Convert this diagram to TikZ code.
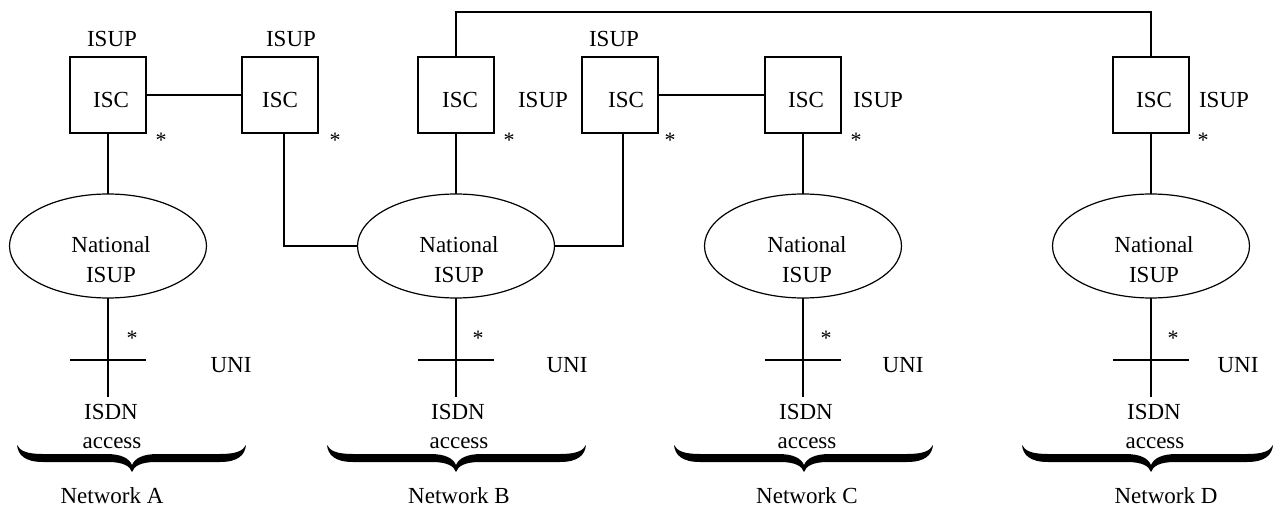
\documentclass[tikz,border=0pt]{standalone}
\usepackage{fontspec}
\setmainfont{Liberation Serif}
\usetikzlibrary{shapes.geometric}
\begin{document}
\begin{tikzpicture}[x=1pt,y=-1pt,
  every node/.style={inner sep=0pt,outer sep=0pt},
  txt/.style={font=\fontsize{23}{30}\selectfont,anchor=base},
  star/.style={font=\fontsize{22}{24}\selectfont,anchor=base},
  isc/.style={draw,line width=1.4pt,minimum width=76pt,minimum height=76pt},
  net/.style={draw,ellipse,line width=1.2pt,minimum width=197pt,minimum height=104pt},
  wire/.style={line width=1.4pt},
  pics/netbrace/.style 2 args={code={
    \fill (-#1,0)
      .. controls (-#1+1,10) and (-#1+8,17) .. (-#1+26,17)
      -- (-24,17)
      .. controls (-9,17) and (-2,21) .. (0,27)
      .. controls (2,21) and (9,17) .. (24,17)
      -- (#2-26,17)
      .. controls (#2-8,17) and (#2-1,10) .. (#2,0)
      .. controls (#2-3,6) and (#2-10,9) .. (#2-26,9)
      -- (26,9)
      .. controls (11,9) and (3,13) .. (0,20)
      .. controls (-3,13) and (-11,9) .. (-26,9)
      -- (-#1+26,9)
      .. controls (-#1+10,9) and (-#1+3,6) .. (-#1,0)
      -- cycle;
  }}
]
\useasboundingbox (0,0) rectangle (1274,508);

% international switching centres
\node[isc] (A1) at (108,95) {};
\node[isc] (A2) at (280,95) {};
\node[isc] (B1) at (456,95) {};
\node[isc] (B2) at (620,95) {};
\node[isc] (C1) at (803,95) {};
\node[isc] (D1) at (1151,95) {};

\node[txt] (A1t) at (111,108) {ISC};
\node[txt] (A2t) at (280,108) {ISC};
\node[txt] (B1t) at (460,108) {ISC};
\node[txt] (B2t) at (626,108) {ISC};
\node[txt] (C1t) at (806,108) {ISC};
\node[txt] (D1t) at (1154,108) {ISC};

% ISUP labels of the switching centres
\node[txt] (A1u) at (112,47) {ISUP};
\node[txt] (A2u) at (291,47) {ISUP};
\node[txt] (B2u) at (614,47) {ISUP};
\node[txt] (B1u) at (543,108) {ISUP};
\node[txt] (C1u) at (878,108) {ISUP};
\node[txt] (D1u) at (1224,108) {ISUP};

% stars beside the switching centres
\node[star] (A1s) at (161,147) {*};
\node[star] (A2s) at (335,147) {*};
\node[star] (B1s) at (509,147) {*};
\node[star] (B2s) at (670,147) {*};
\node[star] (C1s) at (856,147) {*};
\node[star] (D1s) at (1203,147) {*};

% national networks
\node[net] (eA) at (108,246) {};
\node[net] (eB) at (456,246) {};
\node[net] (eC) at (803,246) {};
\node[net] (eD) at (1151,246) {};
\foreach \n/\x in {A/111,B/459,C/807,D/1154}{
  \node[txt] (nat\n) at (\x,252) {National};
  \node[txt] (isup\n) at (\x,282) {ISUP};
}

% international links
\draw[wire] (A1.east) -- (A2.west);
\draw[wire] (B2.east) -- (C1.west);
\coordinate (topline) at (0,12);
\draw[wire] (B1.north) |- (topline -| D1.north) -- (D1.north);
\draw[wire] ([xshift=4]A2.south) |- (eB.west);
\draw[wire] ([xshift=3]B2.south) |- (eB.east);

% switching centres to national networks
\draw[wire] (A1.south) -- (eA.north);
\draw[wire] (B1.south) -- (eB.north);
\draw[wire] (C1.south) -- (eC.north);
\draw[wire] (D1.south) -- (eD.north);

% access lines, user-network interfaces
\foreach \n/\x/\w in {A/108/2.6,B/456/1.8,C/803/2.6,D/1151/2.6}{
  \coordinate (end\n) at (\x,397);
  \coordinate (uni\n) at (\x,360);
  \draw[wire] (e\n.south) -- (end\n);
  \draw[line width=\w pt] ([xshift=-38]uni\n) -- ([xshift=38]uni\n);
}
\node[star] (As) at (132,345) {*};
\node[star] (Bs) at (478,345) {*};
\node[star] (Cs) at (826,345) {*};
\node[star] (Ds) at (1173,345) {*};

\node[txt] (Au) at (231,372) {UNI};
\node[txt] (Bu) at (567,372) {UNI};
\node[txt] (Cu) at (903,372) {UNI};
\node[txt] (Du) at (1238,372) {UNI};

\foreach \n/\x in {A/111,B/458,C/806,D/1154}{
  \node[txt] (isdn\n) at (\x,419) {ISDN};
  \node[txt] (acc\n) at (\x+1,448) {access};
}

% network braces
\pic at (132,445) {netbrace={115}{114}};
\pic at (456,445) {netbrace={129}{130}};
\pic at (804,445) {netbrace={130}{129}};
\pic at (1151,445) {netbrace={129}{122}};

\node[txt] (netA) at (112,503) {Network A};
\node[txt] (netB) at (459,503) {Network B};
\node[txt] (netC) at (807,503) {Network C};
\node[txt] (netD) at (1166,503) {Network D};
\end{tikzpicture}
\end{document}
